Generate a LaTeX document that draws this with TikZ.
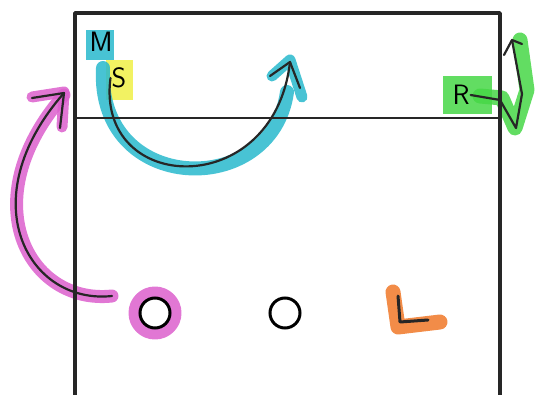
\documentclass[tikz,border=0pt]{standalone}
\usepackage{tikz}
\usetikzlibrary{positioning,arrows.meta,calc}

\definecolor{tealmark}{RGB}{40,185,205}
\definecolor{pinkmark}{RGB}{220,95,205}
\definecolor{greenmark}{RGB}{70,215,70}
\definecolor{yellowmark}{RGB}{240,240,70}
\definecolor{orangemark}{RGB}{240,120,40}

\tikzset{
  pen/.style={draw=black!85,line width=2.2pt,line cap=round,line join=round},
  marker/.style={line width=#1,line cap=round,line join=round,opacity=0.85},
  letter/.style={inner sep=1pt,font=\fontsize{28}{28}\selectfont\sffamily},
  spot/.style={circle,draw=black,line width=3pt,minimum size=30pt,inner sep=0pt}
}

\begin{document}
\begin{tikzpicture}[x=1pt,y=-1pt]
  \useasboundingbox (0,0) rectangle (546,395);
  % field
  \coordinate (tl) at (75,13);
  \coordinate (tr) at (500,13);
  \coordinate (bl) at (75,395);
  \coordinate (br) at (500,395);
  \coordinate (ml) at (75,118);
  \coordinate (mr) at (500,118);

  % highlights
  \fill[tealmark,opacity=0.85] (86,30) rectangle (114,60);
  \fill[yellowmark,opacity=0.85] (106,60) rectangle (133,100);
  \fill[greenmark,opacity=0.85] (443,76) rectangle (492,114);
  \draw[greenmark,marker=15pt] (480,96) -- (502,98) -- (515,128) -- (527,90) -- (520,40);
  \draw[tealmark,marker=14pt] (103,68) .. controls (96,195) and (272,200) .. (287,92);
  \draw[tealmark,marker=11pt] (272,76) -- (290,60) -- (302,97);
  \draw[pinkmark,marker=13pt] (112,296) .. controls (28,305) and (-28,200) .. (64,95);
  \draw[pinkmark,marker=11pt] (32,97) -- (64,92) -- (62,127);
  \draw[pinkmark,marker=11pt] (155,313) circle (21pt);
  \draw[orangemark,marker=15pt] (393,292) -- (398,327) -- (440,322);

  % field lines
  \draw[pen,line width=3.6pt] (bl) -- (tl) -- (tr) -- (br);
  \draw[pen,line width=2pt] (ml) -- (mr);

  % players
  \node[letter] (m) at (101,42) {M};
  \node[letter] (s) at (119,78) {S};
  \node[letter] (r) at (461,95) {R};
  \node[spot] (c1) at (155,313) {};
  \node[spot] (c2) at (285,313) {};
  \draw[pen,line width=3pt] (398,296) -- (400,322) -- (428,320);

  % runs
  \coordinate (sEnd) at (290,62);
  \coordinate (pStart) at (112,296);
  \coordinate (pEnd) at (64,93);
  \coordinate (rEnd) at (512,40);
  \draw[pen] (s.west) .. controls (95,195) and (274,202) .. (sEnd);
  \draw[pen] (270,76) -- (sEnd) -- (300,88);
  \draw[pen] (pStart) .. controls (28,305) and (-30,200) .. (pEnd);
  \draw[pen] (32,98) -- (pEnd) -- (60,128);
  \draw[pen] (r.east) -- (500,100) -- (516,128) -- (522,94) -- (rEnd);
  \draw[pen] (504,55) -- (rEnd) -- (522,44);
\end{tikzpicture}
\end{document}
